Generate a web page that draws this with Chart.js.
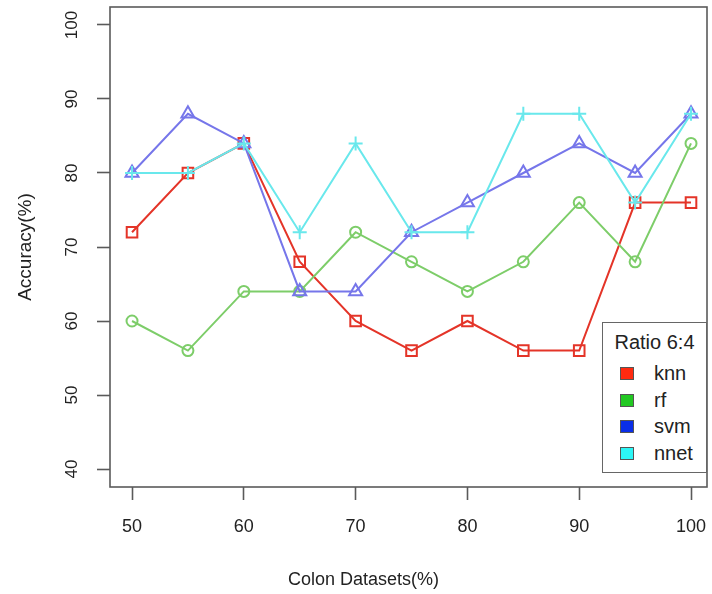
<!DOCTYPE html>
<html>
<head>
<meta charset="utf-8">
<script src="https://cdn.jsdelivr.net/npm/chart.js@4/dist/chart.umd.min.js"></script>
<style>
  html, body { margin: 0; padding: 0; background: #ffffff; }
  #wrap { position: relative; width: 712px; height: 594px; }
  #legend {
    position: absolute; left: 602px; top: 322px; width: 103px; height: 149px;
    border: 1.5px solid #666; background: #fff;
    font-family: "Liberation Sans", Arial, sans-serif; color: #222;
  }
  #legend .ttl { position: absolute; left: 0; width: 100%; top: 7px; text-align: center; font-size: 20px; line-height: 24px; }
  #legend .row { position: absolute; left: 0; height: 24px; width: 100%; }
  #legend .sw { position: absolute; left: 17px; top: 5px; width: 14px; height: 13px; border: 1px solid #555; box-sizing: border-box; }
  #legend .lb { position: absolute; left: 51px; top: 0; font-size: 20px; line-height: 22px; }
</style>
</head>
<body>
<div id="wrap">
  <canvas id="c" width="712" height="594"></canvas>
  <div id="legend"></div>
</div>
<script>
const categories = [50, 55, 60, 65, 70, 75, 80, 85, 90, 95, 100];
const knn  = [72, 80, 84, 68, 60, 56, 60, 56, 56, 76, 76];
const rf   = [60, 56, 64, 64, 72, 68, 64, 68, 76, 68, 84];
const svm  = [80, 88, 84, 64, 64, 72, 76, 80, 84, 80, 88];
const nnet = [80, 80, 84, 72, 84, 72, 72, 88, 88, 76, 88];
const xTicks = [50, 60, 70, 80, 90, 100];
const yTicks = [40, 50, 60, 70, 80, 90, 100];
const seriesNames = ['knn', 'rf', 'svm', 'nnet'];
const legendTitle = 'Ratio 6:4';

const lineColors = ['rgb(228,52,40)', 'rgb(125,205,105)', 'rgb(118,118,234)', 'rgb(105,232,236)'];
const swatchColors = ['#ff2a10', '#22c822', '#0a2ee8', '#2cf6f6'];
const shapes = ['rect', 'circle', 'triangle', 'cross'];
const radii = [7.5, 5.5, 7.5, 7];
const values = [knn, rf, svm, nnet];

const FONT = '"Liberation Sans", Arial, sans-serif';

const datasets = seriesNames.map((name, i) => ({
  label: name,
  data: categories.map((c, j) => ({ x: c, y: values[i][j] })),
  borderColor: lineColors[i],
  backgroundColor: 'rgba(0,0,0,0)',
  borderWidth: 2,
  pointStyle: shapes[i],
  pointRadius: radii[i],
  pointBorderWidth: 2,
  pointBorderColor: lineColors[i],
  pointBackgroundColor: 'rgba(0,0,0,0)',
  tension: 0,
  fill: false,
  clip: false,
  order: seriesNames.length - i
}));

const boxPlugin = {
  id: 'box',
  beforeDatasetsDraw(chart) {
    const a = chart.chartArea, ctx = chart.ctx;
    ctx.save();
    ctx.strokeStyle = '#5a5a5a';
    ctx.lineWidth = 1.6;
    ctx.strokeRect(a.left, a.top, a.right - a.left, a.bottom - a.top);
    ctx.restore();
  }
};

function noPad(s) { s.paddingTop = 0; s.paddingBottom = 0; s.paddingLeft = 0; s.paddingRight = 0; }

new Chart(document.getElementById('c'), {
  type: 'line',
  data: { datasets },
  plugins: [boxPlugin],
  options: {
    responsive: false,
    animation: false,
    devicePixelRatio: 1,
    layout: { autoPadding: false, padding: { left: 20, right: 5, top: 7, bottom: 0 } },
    plugins: {
      legend: { display: false },
      tooltip: { enabled: false },
      title: {
        display: true, position: 'bottom', text: 'Colon Datasets(%)',
        color: '#222', font: { family: FONT, size: 18, weight: 'normal' },
        padding: { top: 10, bottom: 3 }
      }
    },
    scales: {
      x: {
        type: 'linear', min: 48.03, max: 101.43,
        afterBuildTicks: s => { s.ticks = xTicks.map(v => ({ value: v })); },
        afterFit: s => { s.height = 72.4; noPad(s); },
        grid: { drawOnChartArea: false, drawTicks: true, tickLength: 13, tickWidth: 1.6, color: '#5a5a5a' },
        border: { display: false },
        ticks: { color: '#222', font: { family: FONT, size: 18 }, padding: 16, maxRotation: 0, autoSkip: false }
      },
      y: {
        type: 'linear', min: 37.57, max: 102.43,
        afterBuildTicks: s => { s.ticks = yTicks.map(v => ({ value: v })); },
        afterFit: s => { s.width = 90; noPad(s); },
        grid: { drawOnChartArea: false, drawTicks: true, tickLength: 13, tickWidth: 1.6, color: '#5a5a5a' },
        border: { display: false },
        ticks: { color: '#222', font: { family: FONT, size: 17 }, padding: 11, minRotation: 90, maxRotation: 90, crossAlign: 'center', autoSkip: false },
        title: { display: true, text: 'Accuracy(%)', color: '#222', font: { family: FONT, size: 19 }, padding: { top: -6, bottom: 0 } }
      }
    }
  }
});

// legend built from the series names and colours
const lg = document.getElementById('legend');
const t = document.createElement('div');
t.className = 'ttl'; t.textContent = legendTitle; lg.appendChild(t);
seriesNames.forEach((n, i) => {
  const r = document.createElement('div');
  r.className = 'row'; r.style.top = (39 + i * 26.7) + 'px';
  const s = document.createElement('div');
  s.className = 'sw'; s.style.background = swatchColors[i];
  const l = document.createElement('div');
  l.className = 'lb'; l.textContent = n;
  r.appendChild(s); r.appendChild(l); lg.appendChild(r);
});
</script>
</body>
</html>
